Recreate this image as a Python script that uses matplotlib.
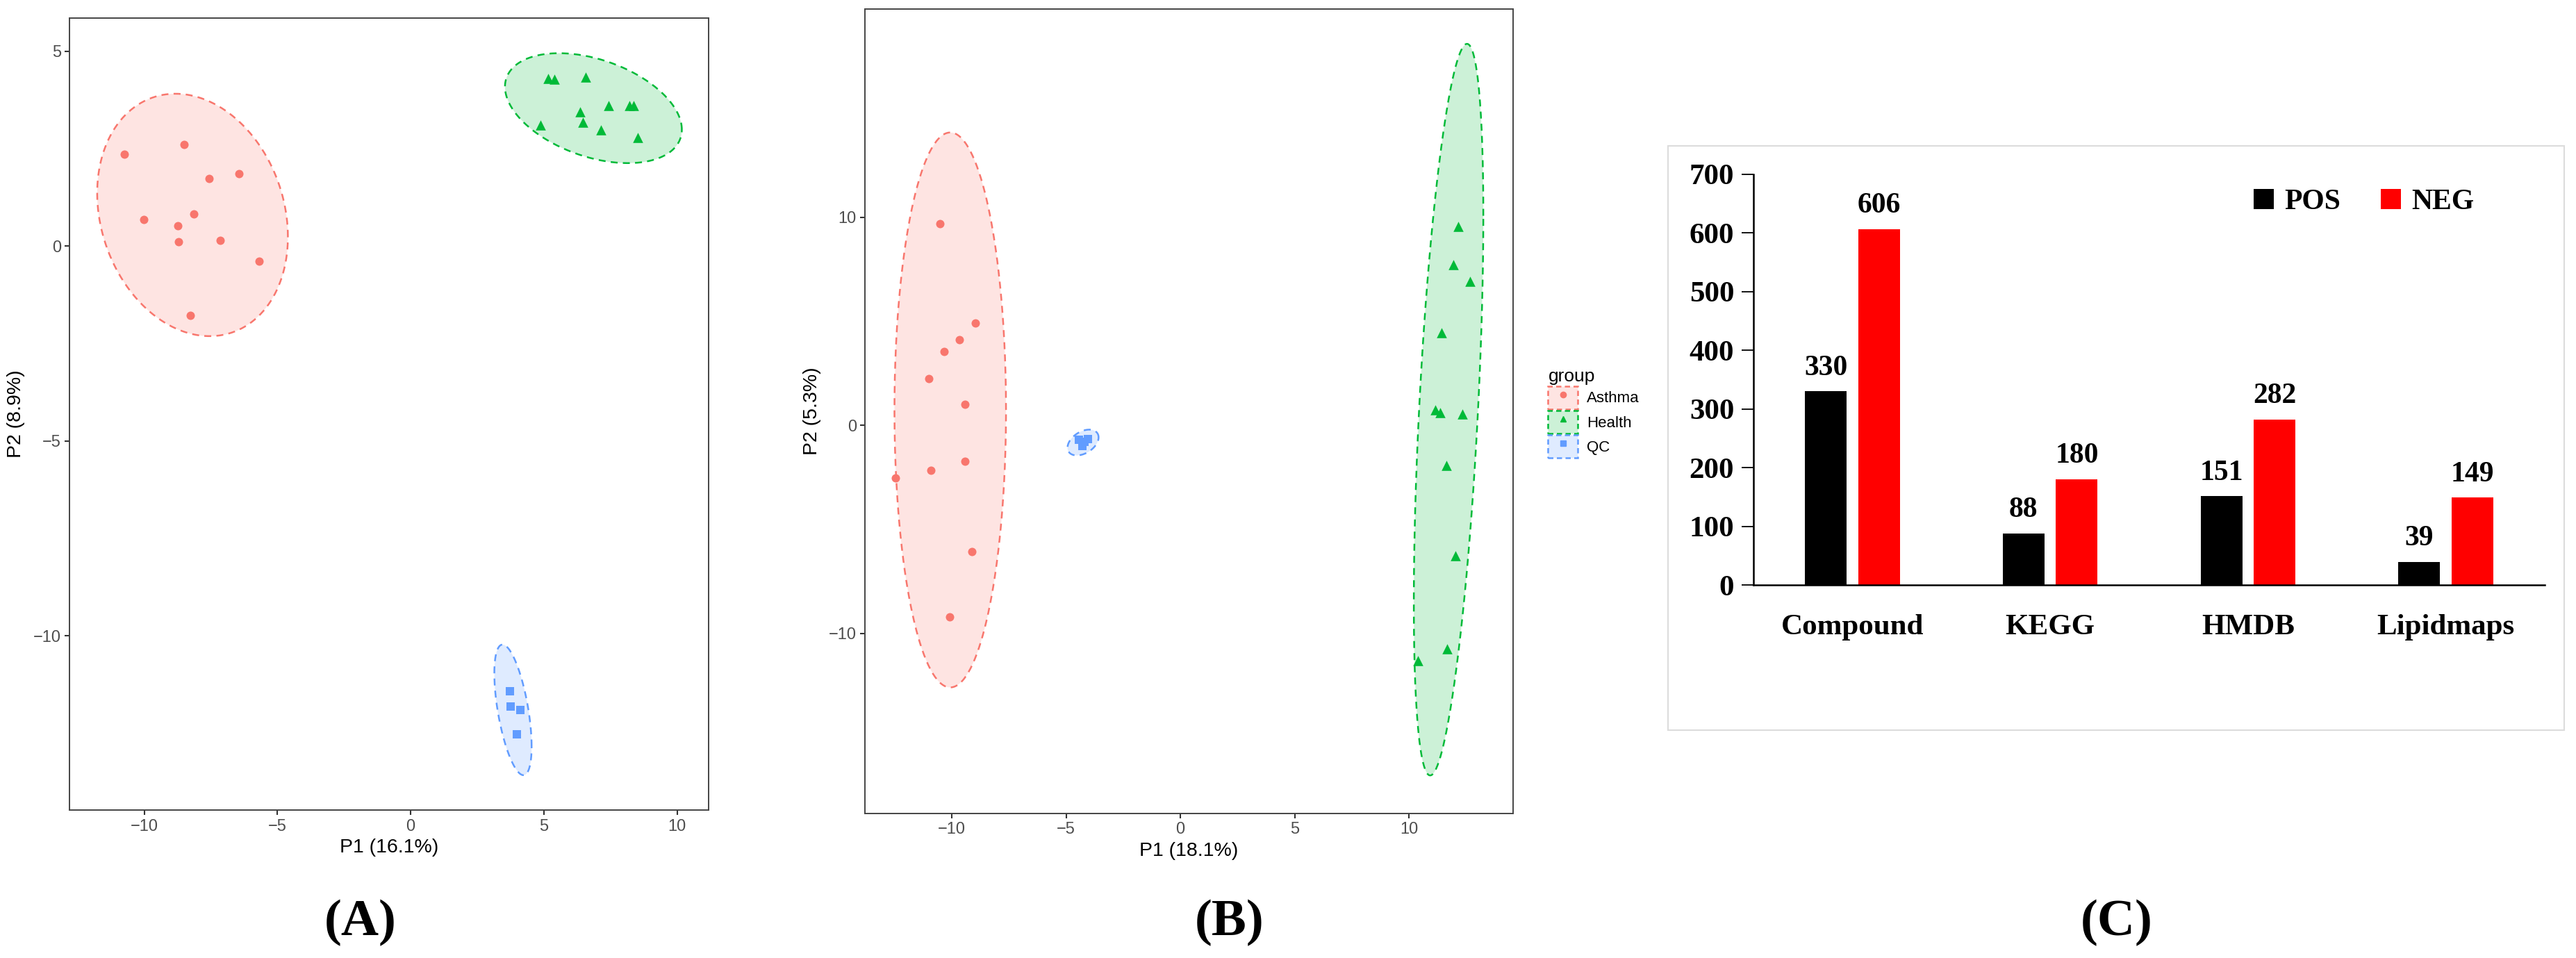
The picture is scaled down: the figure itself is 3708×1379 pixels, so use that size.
import numpy as np
import matplotlib
matplotlib.use("Agg")
from matplotlib import pyplot as plt
from matplotlib.patches import Patch, Rectangle
from matplotlib.lines import Line2D

# ---- panel A / B : PCA score points ----
groups = ["Asthma", "Health", "QC"]
group_colors = ["#F8766D", "#00BA38", "#619CFF"]
group_fills = ["#FEE4E2", "#CCF1D7", "#DFEBFF"]
group_markers = ["o", "^", "s"]

asthma_a_x = [-10.74, -8.51, -7.58, -6.44, -10.02, -8.14, -8.75, -8.72, -7.16, -5.70, -8.28]
asthma_a_y = [2.36, 2.61, 1.74, 1.85, 0.68, 0.83, 0.53, 0.11, 0.15, -0.38, -1.78]
health_a_x = [5.16, 5.39, 6.58, 7.42, 8.22, 8.38, 6.37, 6.47, 4.86, 7.14, 8.53]
health_a_y = [4.30, 4.28, 4.34, 3.61, 3.61, 3.61, 3.45, 3.18, 3.10, 2.98, 2.79]
qc_a_x = [3.72, 3.75, 4.11, 3.98]
qc_a_y = [-11.43, -11.81, -11.90, -12.53]

asthma_b_x = [-10.51, -8.98, -9.67, -10.33, -11.0, -9.44, -9.44, -10.91, -12.47, -9.12, -10.09]
asthma_b_y = [9.69, 4.93, 4.13, 3.54, 2.26, 1.00, -1.72, -2.15, -2.53, -6.07, -9.21]
health_b_x = [12.16, 11.95, 12.67, 11.42, 11.14, 11.37, 12.33, 11.63, 12.02, 11.65, 10.40]
health_b_y = [9.57, 7.71, 6.91, 4.44, 0.75, 0.63, 0.54, -1.91, -6.26, -10.75, -11.30]
qc_b_x = [-4.45, -4.05, -4.28, -4.20]
qc_b_y = [-0.70, -0.65, -1.00, -0.80]

# ellipses: centre x, centre y, half width, half height, tilt (cos phase)
ell_a = [(-8.19, 0.80, 3.58, 3.11, -0.18),
         (6.86, 3.54, 3.32, 1.41, -0.39),
         (3.84, -11.90, 0.70, 1.675, -0.56)]
ell_b = [(-10.07, 0.745, 2.44, 13.335, 0.0),
         (11.73, 0.76, 1.52, 17.58, 0.53),
         (-4.26, -0.82, 0.68, 0.62, 0.40)]

# ---- panel C : annotated metabolites ----
databases = ["Compound", "KEGG", "HMDB", "Lipidmaps"]
pos_counts = [330, 88, 151, 39]
neg_counts = [606, 180, 282, 149]

SANS = ["Liberation Sans", "DejaVu Sans"]
SERIF = ["Liberation Serif", "DejaVu Serif"]


def ellipse_xy(cx, cy, a, b, c):
    t = np.linspace(0, 2 * np.pi, 300)
    phi = np.arccos(c)
    return cx + a * np.cos(t), cy + b * np.cos(t - phi)


def pca_panel(ax, pts, ells, xlim, ylim, xticks, yticks, xlabel, ylabel, ylab_x):
    for (px, py), e, col, fill, mk in zip(pts, ells, group_colors, group_fills, group_markers):
        ex, ey = ellipse_xy(*e)
        ax.fill(ex, ey, color=fill, lw=0, zorder=1)
        ax.plot(ex, ey, color=col, lw=1.8, ls=(0, (4, 3)), zorder=2)
        size = 110 if mk == "^" else 75
        ax.scatter(px, py, s=size, marker=mk, color=col, lw=0, zorder=3)
    ax.set_xlim(*xlim)
    ax.set_ylim(*ylim)
    ax.set_xticks(xticks)
    ax.set_yticks(yticks)
    ax.set_xticklabels([str(v).replace("-", "\u2212") for v in xticks], family=SANS)
    ax.set_yticklabels([str(v).replace("-", "\u2212") for v in yticks], family=SANS)
    ax.tick_params(length=5, width=1.5, color="#333333", labelcolor="#4d4d4d",
                   labelsize=17, pad=4)
    for s in ax.spines.values():
        s.set_color("#444444")
        s.set_linewidth(1.4)
    ax.set_xlabel(xlabel, fontsize=20.5, family=SANS)
    ax.set_ylabel(ylabel, fontsize=20.5, family=SANS)
    ax.xaxis.set_label_coords(0.5, -0.036)
    ax.yaxis.set_label_coords(ylab_x, 0.5)
    ax.yaxis.label.set_verticalalignment("center")


fig = plt.figure(figsize=(37.08, 13.79), dpi=100)

axA = fig.add_axes([0.02708, 0.15445, 0.24795, 0.82662])
pca_panel(axA, [(asthma_a_x, asthma_a_y), (health_a_x, health_a_y), (qc_a_x, qc_a_y)],
          ell_a, (-12.8, 11.18), (-14.47, 5.85), [-10, -5, 0, 5, 10], [-10, -5, 0, 5],
          "P1 (16.1%)", "P2 (8.9%)", -0.084)

axB = fig.add_axes([0.33587, 0.15105, 0.2514, 0.83923])
pca_panel(axB, [(asthma_b_x, asthma_b_y), (health_b_x, health_b_y), (qc_b_x, qc_b_y)],
          ell_b, (-13.79, 14.54), (-18.64, 20.0), [-10, -5, 0, 5, 10], [-10, 0, 10],
          "P1 (18.1%)", "P2 (5.3%)", -0.082)

handles = []
for col, fill, mk in zip(group_colors, group_fills, group_markers):
    handles.append((Patch(facecolor=fill, edgecolor=col, linestyle=(0, (3, 2)), linewidth=1.8),
                    Line2D([], [], marker=mk, color=col, ls="", markersize=6)))
leg = fig.legend(handles, groups, loc="center left", bbox_to_anchor=(0.598, 0.569),
                 frameon=False, title="group", alignment="left", borderpad=0,
                 handlelength=1.9, handleheight=1.9, labelspacing=0.1, handletextpad=0.6,
                 prop={"family": SANS, "size": 16}, title_fontproperties={"family": SANS, "size": 19})

# ---- panel C ----
axC = fig.add_axes([0.68069, 0.38941, 0.30717, 0.42886])
fig.add_artist(Rectangle((0.6475, 0.2379), 0.3479, 0.6099, transform=fig.transFigure,
                         fill=False, ec="#dcdcdc", lw=1.5))
x = np.arange(len(databases))
off, w = 0.1345, 0.211
b1 = axC.bar(x - off, pos_counts, width=w, color="black", label="POS")
b2 = axC.bar(x + off, neg_counts, width=w, color="#ff0000", label="NEG")
for bars, vals in ((b1, pos_counts), (b2, neg_counts)):
    for r, v in zip(bars, vals):
        axC.annotate(str(v), (r.get_x() + r.get_width() / 2, v), xytext=(0, 17),
                     textcoords="offset points", ha="center", va="baseline",
                     family=SERIF, fontweight="bold", fontsize=30)
axC.set_xlim(-0.5, 3.5)
axC.set_ylim(0, 700)
axC.set_yticks(range(0, 701, 100))
axC.set_xticks(x)
axC.set_xticklabels(databases)
for lab in axC.get_xticklabels() + axC.get_yticklabels():
    lab.set_family(SERIF)
    lab.set_fontweight("bold")
    lab.set_fontsize(31)
axC.tick_params(axis="y", length=12, width=1.3, pad=8)
axC.tick_params(axis="x", length=0, pad=30)
axC.spines["top"].set_visible(False)
axC.spines["right"].set_visible(False)
axC.spines["left"].set_linewidth(1.8)
axC.spines["bottom"].set_linewidth(1.8)
axC.legend(loc="center left", bbox_to_anchor=(0.632, 0.932), ncol=2, frameon=False,
           borderpad=0, borderaxespad=0, handlelength=0.7, handleheight=0.7,
           handletextpad=0.36, columnspacing=1.4,
           prop={"family": SERIF, "weight": "bold", "size": 30})

# panel letters
for lx, lab in ((0.14, "(A)"), (0.4773, "(B)"), (0.8217, "(C)")):
    fig.text(lx, 0.037, lab, ha="center", va="center", family=SERIF,
             fontweight="bold", fontsize=54)

plt.savefig("out.png", dpi=100)
